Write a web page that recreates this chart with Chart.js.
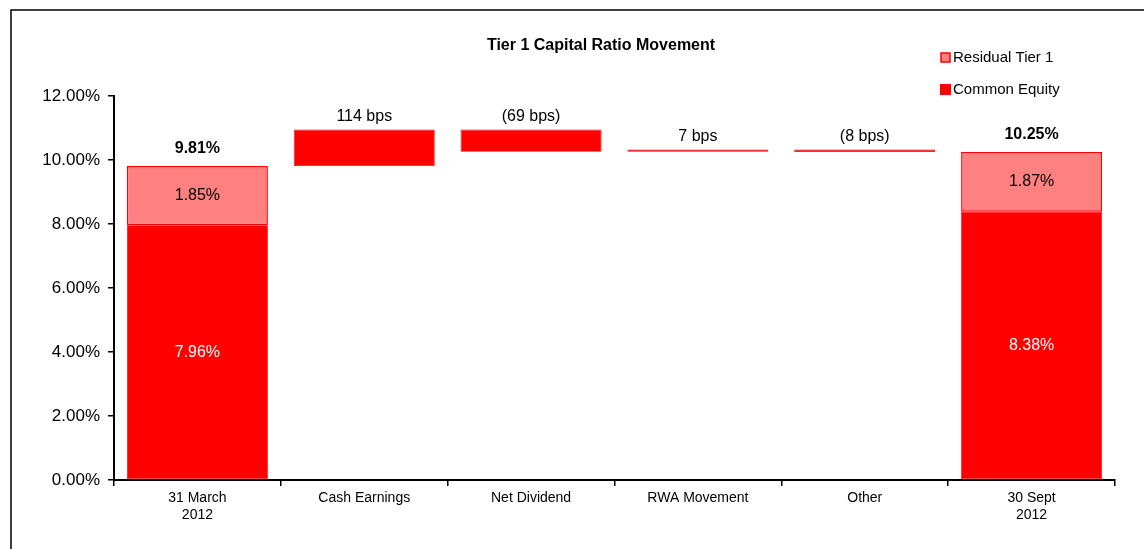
<!DOCTYPE html>
<html>
<head>
<meta charset="utf-8">
<script src="https://cdn.jsdelivr.net/npm/chart.js@4.4.0/dist/chart.umd.min.js"></script>
<style>
  html, body { margin: 0; padding: 0; background: #fff; }
  #wrap { position: relative; width: 1144px; height: 549px; }
</style>
</head>
<body>
<div id="wrap"><canvas id="bar-tier1" width="1144" height="549"></canvas></div>
<script>
// data
var categories = [["31 March", "2012"], "Cash Earnings", "Net Dividend", "RWA Movement", "Other", ["30 Sept", "2012"]];
var commonEquity = [7.96, null, null, null, null, 8.38];
var residualTier1 = [1.85, null, null, null, null, 1.87];
var movementBps = [null, 114, -69, 7, -8, null];
var yTicks = [0, 2, 4, 6, 8, 10, 12];

var RED = "#FF0000";
var PINK = "#FF8080";
var FONT = "'Liberation Sans', Arial, sans-serif";

// build floating bars for the waterfall
var ceBars = [];
var rtBars = [];
var running = 0;
for (var i = 0; i < categories.length; i++) {
  if (commonEquity[i] !== null) {
    ceBars.push([0, commonEquity[i]]);
    rtBars.push([commonEquity[i], commonEquity[i] + residualTier1[i]]);
    running = commonEquity[i] + residualTier1[i];
  } else {
    var next = running + movementBps[i] / 100;
    ceBars.push([Math.min(running, next), Math.max(running, next)]);
    rtBars.push(null);
    running = next;
  }
}

function fmtBps(v) {
  return v < 0 ? "(" + Math.abs(v) + " bps)" : v + " bps";
}

var labelsPlugin = {
  id: "labels",
  afterDatasetsDraw: function(chart) {
    var ctx = chart.ctx;
    var ce = chart.getDatasetMeta(1).data;
    var y = chart.scales.y;
    ctx.save();
    ctx.textAlign = "center";
    for (var i = 0; i < categories.length; i++) {
      var x = ce[i].x;
      if (commonEquity[i] !== null) {
        var total = commonEquity[i] + residualTier1[i];
        ctx.font = "bold 16px " + FONT;
        ctx.fillStyle = "#000";
        ctx.textBaseline = "bottom";
        ctx.fillText(total.toFixed(2) + "%", x, y.getPixelForValue(total) - 9);
        ctx.font = "16px " + FONT;
        ctx.textBaseline = "middle";
        ctx.fillText(residualTier1[i].toFixed(2) + "%", x, y.getPixelForValue(commonEquity[i] + residualTier1[i] / 2));
        ctx.fillStyle = "#fff";
        ctx.fillText(commonEquity[i].toFixed(2) + "%", x, y.getPixelForValue(commonEquity[i] / 2));
      } else {
        ctx.font = "16px " + FONT;
        ctx.fillStyle = "#000";
        ctx.textBaseline = "bottom";
        ctx.fillText(fmtBps(movementBps[i]), x, y.getPixelForValue(ceBars[i][1]) - 5);
      }
    }
    ctx.restore();
  },
  afterDraw: function(chart) {
    var ctx = chart.ctx;
    ctx.save();
    // outer frame
    ctx.strokeStyle = "#000";
    ctx.lineWidth = 1.5;
    ctx.beginPath();
    ctx.moveTo(11, 549);
    ctx.lineTo(11, 10);
    ctx.lineTo(1144, 10);
    ctx.stroke();
    // title
    ctx.fillStyle = "#000";
    ctx.font = "bold 16px " + FONT;
    ctx.textAlign = "center";
    ctx.textBaseline = "middle";
    ctx.fillText("Tier 1 Capital Ratio Movement", 601, 46);
    // legend
    ctx.textAlign = "left";
    ctx.font = "15px " + FONT;
    ctx.fillStyle = PINK;
    ctx.strokeStyle = RED;
    ctx.lineWidth = 1.5;
    ctx.fillRect(941, 53, 9, 9);
    ctx.strokeRect(941, 53, 9, 9);
    ctx.fillStyle = RED;
    ctx.fillRect(940, 84, 11, 11);
    ctx.fillStyle = "#000";
    ctx.fillText("Residual Tier 1", 953, 58);
    ctx.fillText("Common Equity", 953, 90);
    ctx.restore();
  }
};

var ctx = document.getElementById("bar-tier1");

var chart = new Chart(ctx, {
  type: "bar",
  data: {
    labels: categories,
    datasets: [
      {
        label: "Residual Tier 1",
        data: rtBars,
        backgroundColor: PINK,
        borderColor: RED,
        borderWidth: 1.5,
        borderSkipped: false,
        grouped: false,
        categoryPercentage: 1,
        barPercentage: 0.845
      },
      {
        label: "Common Equity",
        data: ceBars,
        backgroundColor: RED,
        borderColor: RED,
        borderWidth: 0.8,
        borderSkipped: false,
        grouped: false,
        categoryPercentage: 1,
        barPercentage: 0.845
      }
    ]
  },
  options: {
    responsive: false,
    animation: false,
    devicePixelRatio: 1,
    layout: { padding: { top: 96, right: 29, left: 0, bottom: 0 } },
    plugins: {
      legend: { display: false },
      tooltip: { enabled: false }
    },
    scales: {
      x: {
        grid: { display: true, drawOnChartArea: false, color: "#000", tickLength: 6, lineWidth: 1.5 },
        border: { color: "#000", width: 2 },
        ticks: { color: "#000", font: { family: FONT, size: 14 }, maxRotation: 0, padding: 4 },
        afterFit: function(scale) { scale.height = 69; }
      },
      y: {
        min: 0,
        max: 12,
        afterBuildTicks: function(scale) {
          scale.ticks = yTicks.map(function(v) { return { value: v }; });
        },
        grid: { display: true, drawOnChartArea: false, color: "#000", tickLength: 6, lineWidth: 1.5 },
        border: { color: "#000", width: 2 },
        ticks: {
          color: "#000",
          font: { family: FONT, size: 17 },
          padding: 8,
          callback: function(v) { return v.toFixed(2) + "%"; }
        },
        afterFit: function(scale) { scale.width = 114; }
      }
    }
  },
  plugins: [labelsPlugin]
});
</script>
</body>
</html>
